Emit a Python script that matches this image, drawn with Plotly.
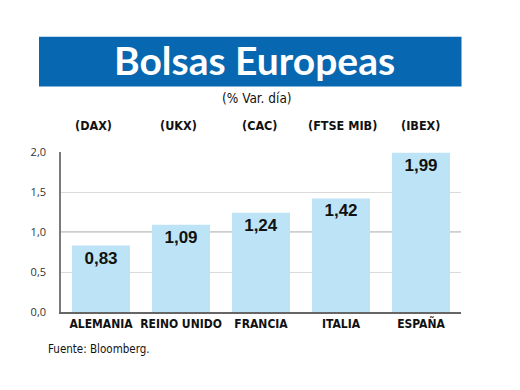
import plotly.graph_objects as go

categories = ["ALEMANIA", "REINO UNIDO", "FRANCIA", "ITALIA", "ESPAÑA"]
indices = ["(DAX)", "(UKX)", "(CAC)", "(FTSE MIB)", "(IBEX)"]
values = [0.83, 1.09, 1.24, 1.42, 1.99]
value_labels = ["0,83", "1,09", "1,24", "1,42", "1,99"]
y_ticks = [0.0, 0.5, 1.0, 1.5, 2.0]
emphasis_grid = 1.0

title = "Bolsas Europeas"
subtitle = "(% Var. día)"
source = "Fuente: Bloomberg."

L, R, T, B = 61, 461, 152, 312
W, H = 520, 390

def px(x):
    return (x - L) / (R - L)

def py(y):
    return (B - y) / (B - T)

NARROW = "DejaVu Sans Condensed, Liberation Sans Narrow, sans-serif"

fig = go.Figure()
fig.add_trace(go.Bar(
    x=categories, y=values,
    marker=dict(color="#bde4f6", line=dict(width=0)),
    text=value_labels, textposition="inside", insidetextanchor="end",
    textangle=0, constraintext="none",
    textfont=dict(family="Liberation Sans, Arial", size=17, color="#111111", weight="bold"),
    hoverinfo="skip",
))

annotations = []
annotations.append(dict(text=title, x=px(254), y=py(60), xref="paper", yref="paper",
                        showarrow=False, xanchor="center", yanchor="middle",
                        font=dict(family="Lato, Open Sans, sans-serif", size=39, color="white", weight="bold")))
annotations.append(dict(text=subtitle, x=px(257), y=py(98), xref="paper", yref="paper",
                        showarrow=False, xanchor="center", yanchor="middle",
                        font=dict(family=NARROW, size=13.5, color="#111111")))
shifts = [-8, -3, -1, 1, -1]
for cat, idx, s in zip(categories, indices, shifts):
    annotations.append(dict(text=idx, x=cat, y=py(125), xref="x", yref="paper", xshift=s,
                            showarrow=False, xanchor="center", yanchor="middle",
                            font=dict(family=NARROW, size=12.5, color="#111111", weight="bold")))
annotations.append(dict(text=source, x=px(46), y=py(349), xref="paper", yref="paper",
                        showarrow=False, xanchor="left", yanchor="middle",
                        font=dict(family=NARROW, size=11.5, color="#111111")))

fig.update_layout(
    width=W, height=H,
    margin=dict(l=L, r=W - R, t=T, b=H - B, pad=0),
    paper_bgcolor="white", plot_bgcolor="white",
    showlegend=False,
    bargap=0.275,
    separators=",.",
    annotations=annotations,
    shapes=[
        dict(type="rect", xref="paper", yref="paper",
             x0=px(39), x1=px(461.5), y0=py(86.5), y1=py(36.7),
             fillcolor="#0767b1", line=dict(width=0), layer="below"),
        dict(type="line", xref="paper", yref="y", x0=0, x1=1,
             y0=emphasis_grid, y1=emphasis_grid,
             line=dict(color="#9a9a9a", width=1), layer="between"),
    ],
    xaxis=dict(showgrid=False, showline=True, linecolor="#666666", linewidth=2,
               ticks="", tickangle=0, automargin=False,
               tickfont=dict(family=NARROW, size=12, color="#111111", weight="bold"),
               fixedrange=True),
    yaxis=dict(range=[0, 2.0], tickvals=y_ticks, tickformat=".1f",
               showgrid=True, gridcolor="#dadada", gridwidth=1,
               showline=True, linecolor="#7a7a7a", linewidth=1.5,
               zeroline=False, ticks="", ticklabelstandoff=11, automargin=False,
               tickfont=dict(family="Open Sans, sans-serif", size=11, color="#333333"),
               fixedrange=True),
)

fig.write_html("out.html", config={"displayModeBar": False},
               post_script="document.body.style.margin='0';document.body.style.padding='0';")
